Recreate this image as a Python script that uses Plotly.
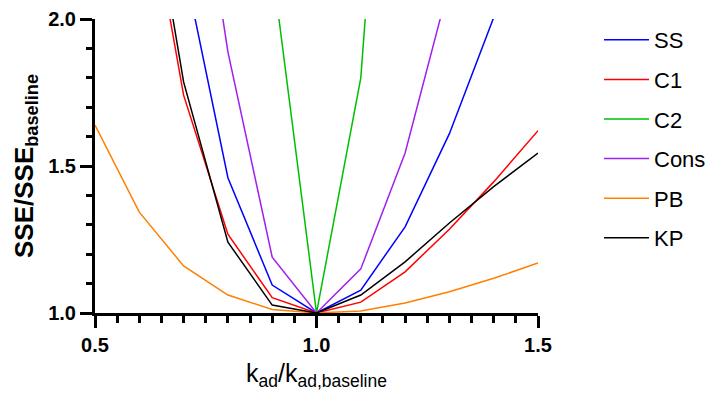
import plotly.graph_objects as go

x = [0.5, 0.6, 0.7, 0.8, 0.9, 1.0, 1.1, 1.2, 1.3, 1.4, 1.5]

ss   = [3.2, 2.8, 2.19, 1.46, 1.095, 1.0, 1.078, 1.293, 1.61, 2.005, 2.45]
c1   = [3.6, 2.59, 1.741, 1.268, 1.052, 1.0, 1.037, 1.14, 1.285, 1.446, 1.62]
c2   = [5.5, 4.5, 3.5, 2.8, 2.18, 1.0, 1.80, 3.82, 5.0, 6.0, 7.0]
cons = [4.5, 3.8, 2.88, 1.888, 1.19, 1.0, 1.15, 1.544, 2.12, 2.8, 3.5]
pb   = [1.639, 1.343, 1.16, 1.061, 1.012, 1.0, 1.007, 1.034, 1.072, 1.118, 1.17]
kp   = [3.8, 2.68, 1.786, 1.241, 1.027, 1.0, 1.061, 1.174, 1.306, 1.43, 1.544]

names = ["SS", "C1", "C2", "Cons", "PB", "KP"]
series = [ss, c1, c2, cons, pb, kp]
colors = ["#0000FF", "#FF0000", "#00BF00", "#A020F0", "#FF8000", "#000000"]

fig = go.Figure()
for n, s, c in zip(names, series, colors):
    fig.add_trace(go.Scatter(x=x, y=s, mode="lines", name=n, legendgroup=n,
                             line=dict(color=c, width=1.5)))

FONT = "Liberation Sans, Arial, sans-serif"
fig.update_layout(
    width=705, height=386,
    margin=dict(l=87, r=175, t=11, b=81),
    plot_bgcolor="white", paper_bgcolor="white",
    font=dict(family=FONT, color="black"),
    showlegend=True,
    legend=dict(xref="container", x=0.8383, y=1.0, xanchor="left", yanchor="top",
                font=dict(size=22), tracegroupgap=8, itemwidth=45,
                bgcolor="rgba(0,0,0,0)"),
)
fig.update_xaxes(
    range=[0.5, 1.5], showgrid=False, zeroline=False, automargin=False,
    showline=True, linecolor="black", linewidth=3,
    ticks="outside", ticklen=12, tickwidth=3, tickcolor="black",
    tickmode="linear", tick0=0.5, dtick=0.5, tickformat=".1f",
    tickfont=dict(size=20, family=FONT, weight="bold"),
    minor=dict(ticks="outside", ticklen=7, tickwidth=3, tickcolor="black", dtick=0.05, tick0=0.5),
    title=dict(text="k<sub>ad</sub>/k<sub>ad,baseline</sub>", font=dict(size=25), standoff=10),
)
fig.update_yaxes(
    range=[1.0, 2.0], showgrid=False, zeroline=False, automargin=False,
    showline=True, linecolor="black", linewidth=3,
    ticks="outside", ticklen=12, tickwidth=3, tickcolor="black",
    tickmode="linear", tick0=1.0, dtick=0.5, tickformat=".1f",
    tickfont=dict(size=20, family=FONT, weight="bold"),
    minor=dict(ticks="outside", ticklen=6, tickwidth=3, tickcolor="black", dtick=0.1, tick0=1.0),
    title=dict(text="<b>SSE/SSE<sub>baseline</sub></b>", font=dict(size=26), standoff=8),
)

fig.write_html("out.html")
